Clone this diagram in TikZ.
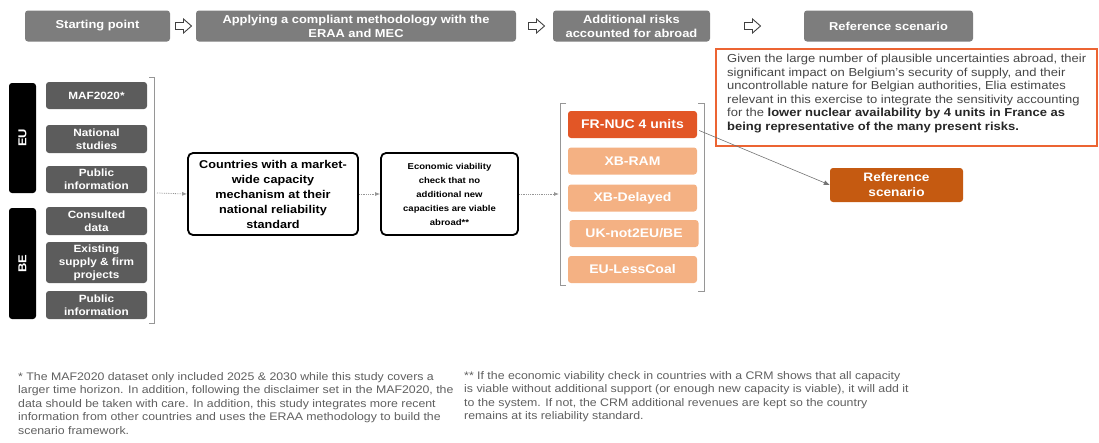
\documentclass[tikz,border=0pt]{standalone}
\usepackage{fontspec}
\setmainfont{Liberation Sans}[FakeStretch=1.12]
\usetikzlibrary{arrows.meta}
\definecolor{hdrgray}{RGB}{125,125,125}
\definecolor{boxgray}{RGB}{92,92,92}
\definecolor{orgdark}{RGB}{226,86,38}
\definecolor{orglight}{RGB}{244,177,131}
\definecolor{orgref}{RGB}{197,90,17}
\definecolor{orgline}{RGB}{236,100,50}
\definecolor{txtgray}{RGB}{70,70,70}
\definecolor{notegray}{RGB}{95,95,95}
\definecolor{lngray}{RGB}{150,150,150}
\tikzset{
  hdr/.style={fill=hdrgray, rounded corners=3pt, text=white, font=\bfseries\fontsize{11.5}{14}\selectfont, align=center, inner sep=0pt, minimum height=31pt},
  hollowarrow/.style={draw=black!75, line width=0.9pt, fill=white, line join=miter},
  sidebar/.style={fill=black, rounded corners=3pt, text=white, font=\bfseries\fontsize{11.5}{12}\selectfont, inner sep=0pt, minimum width=27pt},
  srcbox/.style={fill=boxgray, rounded corners=3pt, text=white, font=\bfseries\fontsize{10.5}{13}\selectfont, align=center, inner sep=0pt, minimum width=101pt},
  stepbox/.style={draw=black, line width=1.8pt, rounded corners=5pt, align=center, inner sep=0pt},
  riskbox/.style={fill=orglight, rounded corners=3pt, text=white, font=\bfseries\fontsize{12.5}{13}\selectfont, inner sep=0pt, minimum width=129pt, minimum height=27pt},
  bracketline/.style={draw=lngray, line width=0.9pt},
  dotarrow/.style={draw=lngray, densely dotted, line width=0.8pt, -{Latex[length=5pt,width=4pt]}},
  note/.style={text=notegray, font=\fontsize{11}{13.6}\selectfont, align=left, anchor=north west, inner sep=0pt}
}
\begin{document}
\begin{tikzpicture}[x=1pt,y=-1pt]
\useasboundingbox (0,0) rectangle (1099,442);
% header
\node[hdr, minimum width=145pt] (h1) at (97.5,26) {Starting point};
\node[hdr, minimum width=320pt] (h2) at (356,26) {Applying a compliant methodology with the\\ERAA and MEC};
\node[hdr, minimum width=157pt] (h3) at (631.5,26) {Additional risks\\accounted for abroad};
\node[hdr, minimum width=169pt] (h4) at (888.5,26) {Reference scenario};
\foreach \ax/\nm in {183.5/a1, 536.5/a2, 752.5/a3}{
  \coordinate (\nm) at (\ax,26);
  \draw[hollowarrow, shift={(\nm)}] (-8,-3.5) -- (0,-3.5) -- (0,-7) -- (8,0) -- (0,7) -- (0,3.5) -- (-8,3.5) -- cycle;
}
% side bars
\node[sidebar, minimum height=110pt] (eu) at (22.5,138) {\rotatebox{90}{EU}};
\node[sidebar, minimum height=111pt] (be) at (22.5,263.5) {\rotatebox{90}{BE}};
% source boxes
\node[srcbox, minimum height=27pt] (s1) at (96.5,95.5) {MAF2020*};
\node[srcbox, minimum height=28pt] (s2) at (96.5,139) {National\\studies};
\node[srcbox, minimum height=27pt] (s3) at (96.5,179.5) {Public\\information};
\node[srcbox, minimum height=28pt] (s4) at (96.5,221) {Consulted\\data};
\node[srcbox, minimum height=41pt] (s5) at (96.5,262.5) {Existing\\supply \& firm\\projects};
\node[srcbox, minimum height=28pt] (s6) at (96.5,305) {Public\\information};
% bracket 1
\draw[bracketline] (149,77) -- (154,77) -- (154,323) -- (149,323);
\coordinate (b1) at (157,193);
% step boxes
\node[stepbox, minimum width=170pt, minimum height=82pt, font=\bfseries\fontsize{11.3}{15}\selectfont] (c1) at (273,194) {Countries with a market-\\wide capacity\\mechanism at their\\national reliability\\standard};
\node[stepbox, minimum width=137pt, minimum height=82pt, font=\bfseries\fontsize{8.5}{14}\selectfont] (c2) at (449.5,194) {Economic viability\\check that no\\additional new\\capacities are viable\\abroad**};
% orange bracket
\draw[bracketline] (566,103) -- (560,103) -- (560,285) -- (566,285);
\draw[bracketline] (698,103) -- (704,103) -- (704,291) -- (698,291);
\coordinate (b2) at (559,194);
% risk boxes
\node[riskbox, fill=orgdark] (r1) at (632.5,124.5) {FR-NUC 4 units};
\node[riskbox] (r2) at (632.5,161) {XB-RAM};
\node[riskbox] (r3) at (632.5,198) {XB-Delayed};
\node[riskbox] (r4) at (634,233.5) {UK-not2EU/BE};
\node[riskbox] (r5) at (632.5,269.5) {EU-LessCoal};
% connectors
\draw[dotarrow] (b1) -- (c1.west);
\draw[dotarrow] (c1.east) -- (c2.west);
\draw[dotarrow] (c2.east) -- (b2);
% text box
\node[draw=orgline, line width=1.6pt, minimum width=381pt, minimum height=97pt, inner sep=0pt] (tb) at (906.5,97.5) {};
\node[anchor=north west, inner sep=0pt, align=left, text=txtgray, font=\fontsize{11.6}{13.5}\selectfont] (tt) at (727,54) {Given the large number of plausible uncertainties abroad, their\\significant impact on Belgium’s security of supply, and their\\uncontrollable nature for Belgian authorities, Elia estimates\\relevant in this exercise to integrate the sensitivity accounting\\for the \textcolor{black!85}{\bfseries lower nuclear availability by 4 units in France as}\\\textcolor{black!85}{\bfseries being representative of the many present risks.}};
% reference scenario
\node[fill=orgref, rounded corners=3pt, text=white, font=\bfseries\fontsize{12.2}{15}\selectfont, align=center, inner sep=0pt, minimum width=133pt, minimum height=34pt] (ref) at (896.5,185) {Reference\\scenario};
\draw[draw=black!55, line width=0.6pt, -{Latex[length=6pt,width=5pt]}] (r1.east) ++(2,6) coordinate (r1o) (r1o) -- (ref.west);
% footnotes
\node[note] (n1) at (18,372) {* The MAF2020 dataset only included 2025 \& 2030 while this study covers a\\larger time horizon. In addition, following the disclaimer set in the MAF2020, the\\data should be taken with care. In addition, this study integrates more recent\\information from other countries and uses the ERAA methodology to build the\\scenario framework.};
\node[note] (n2) at (464,371) {** If the economic viability check in countries with a CRM shows that all capacity\\is viable without additional support (or enough new capacity is viable), it will add it\\to the system. If not, the CRM additional revenues are kept so the country\\remains at its reliability standard.};
\end{tikzpicture}
\end{document}
